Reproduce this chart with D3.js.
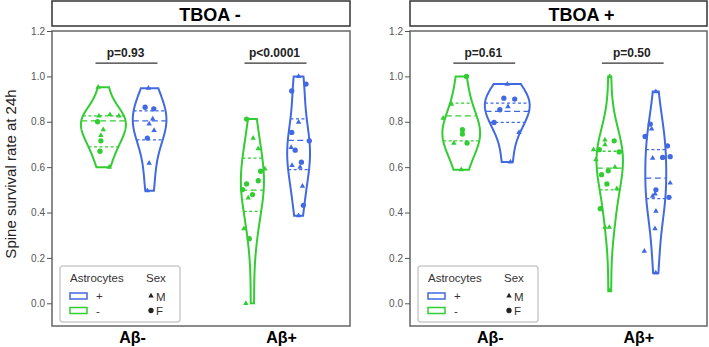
<!DOCTYPE html>
<html>
<head>
<meta charset="utf-8">
<script src="https://cdn.jsdelivr.net/npm/d3@7"></script>
<style>
  body { margin: 0; background: #fff; font-family: "Liberation Sans", Arial, sans-serif; }
</style>
</head>
<body>
<div id="chart"></div>
<script>
// ---- data ----
var panels = ["TBOA -", "TBOA +"];
var groups = ["Aβ-", "Aβ+"];
var astrocytes = ["-", "+"];
var sexes = ["M", "F"];
var pvalues = [["p=0.93", "p<0.0001"], ["p=0.61", "p=0.50"]];
var yTicks = [0, 0.2, 0.4, 0.6, 0.8, 1.0, 1.2];

// points: [survival rate, sex, jitter (fraction of category step)]
var tboaNeg_abNeg_astroNeg = [[0.952,"M",-0.035],[0.831,"M",0.044],[0.826,"M",-0.030],[0.826,"M",0.104],[0.800,"F",-0.039],[0.765,"M",-0.001],[0.740,"M",-0.017],[0.716,"F",-0.017],[0.670,"F",-0.023],[0.600,"M",0.039]];
var tboaNeg_abNeg_astroPos = [[0.948,"M",-0.008],[0.864,"F",-0.030],[0.857,"F",0.028],[0.813,"M",0.021],[0.791,"M",-0.003],[0.762,"M",0.030],[0.728,"F",-0.015],[0.618,"M",-0.003],[0.496,"M",-0.015]];
var tboaNeg_abPos_astroNeg = [[0.812,"F",-0.039],[0.728,"M",0.005],[0.681,"M",0.039],[0.592,"M",0.084],[0.582,"F",0.055],[0.540,"F",0.039],[0.526,"F",-0.039],[0.501,"F",-0.066],[0.479,"F",0.001],[0.464,"M",-0.028],[0.329,"M",-0.057],[0.285,"F",-0.021],[0.000,"M",-0.044]];
var tboaNeg_abPos_astroPos = [[1.000,"M",0],[0.966,"F",0.050],[0.936,"F",-0.046],[0.798,"M",0],[0.753,"F",-0.046],[0.716,"F",0.072],[0.687,"M",-0.050],[0.675,"F",-0.023],[0.622,"F",0.019],[0.608,"M",-0.044],[0.600,"M",0.010],[0.516,"M",0.026],[0.432,"F",0.032],[0.386,"M",0]];
var tboaPos_abNeg_astroNeg = [[1.000,"F",0.035],[0.878,"M",-0.066],[0.816,"M",-0.122],[0.765,"F",0.008],[0.746,"F",0.008],[0.706,"M",-0.050],[0.706,"F",0.039],[0.589,"M",0]];
var tboaPos_abNeg_astroPos = [[0.966,"M",0],[0.904,"F",-0.023],[0.900,"F",0.050],[0.867,"M",0.005],[0.853,"F",-0.050],[0.797,"F",-0.089],[0.753,"M",0.079],[0.623,"M",0.021]];
var tboaPos_abPos_astroNeg = [[1.000,"M",0],[0.720,"M",-0.032],[0.716,"F",0.030],[0.699,"M",-0.032],[0.677,"M",-0.109],[0.677,"F",-0.070],[0.667,"F",0.064],[0.633,"M",-0.093],[0.600,"M",0.035],[0.584,"F",-0.010],[0.567,"F",-0.055],[0.526,"F",-0.019],[0.505,"M",0.048],[0.417,"F",-0.064],[0.335,"M",-0.032],[0.335,"M",-0.003],[0.056,"M",0]];
var tboaPos_abPos_astroPos = [[0.933,"M",0],[0.790,"F",-0.037],[0.769,"M",-0.028],[0.735,"F",-0.072],[0.694,"F",0.079],[0.646,"F",0.097],[0.643,"F",0.046],[0.640,"M",-0.021],[0.530,"M",0.097],[0.500,"F",0.001],[0.482,"M",-0.005],[0.472,"M",-0.021],[0.467,"F",0.089],[0.406,"M",0.001],[0.329,"M",-0.005],[0.230,"M",-0.077],[0.134,"M",0]];

// quartiles [q1, median, q3] as drawn inside each violin
var quart_tboaNeg = [[[0.689,0.804,0.826],[0.720,0.804,0.848]], [[0.405,0.499,0.640],[0.589,0.718,0.813]]];
var quart_tboaPos = [[[0.716,0.826,0.882],[0.797,0.846,0.882]], [[0.500,0.596,0.670],[0.461,0.552,0.677]]];

// table for drawing: panel -> group -> astrocytes
var points = [
  [[tboaNeg_abNeg_astroNeg, tboaNeg_abNeg_astroPos], [tboaNeg_abPos_astroNeg, tboaNeg_abPos_astroPos]],
  [[tboaPos_abNeg_astroNeg, tboaPos_abNeg_astroPos], [tboaPos_abPos_astroNeg, tboaPos_abPos_astroPos]]
];
var quartiles = [quart_tboaNeg, quart_tboaPos];

// ---- layout ----
var W = 709, H = 347;
var panelX = [[52, 350], [410, 707]];
var titleShift = [9, 23];
var plotTop = 31, plotBottom = 326;
var colors = {"+": "#4169e1", "-": "#32cd32"};
var dodge = 0.155, maxHalf = 0.151;

var svg = d3.select("#chart").append("svg")
  .attr("width", W).attr("height", H);

var y = d3.scaleLinear().domain([-0.1, 1.2]).range([plotBottom, plotTop]);

// gaussian kde, scott bandwidth
function kde(vals) {
  var n = vals.length;
  var bw = d3.deviation(vals) * Math.pow(n, -0.2);
  return function(t) {
    var s = 0;
    vals.forEach(function(v) { var z = (t - v) / bw; s += Math.exp(-0.5 * z * z); });
    return s / (n * bw * Math.sqrt(2 * Math.PI));
  };
}

var triangle = d3.symbol().type(d3.symbolTriangle).size(13);
var circle = d3.symbol().type(d3.symbolCircle).size(22);

// y axis title
svg.append("text")
  .attr("transform", "translate(16,174) rotate(-90)")
  .attr("text-anchor", "middle")
  .style("font-size", "15px")
  .style("fill", "#222")
  .text("Spine survival rate at 24h");

panels.forEach(function(title, pi) {
  var left = panelX[pi][0], right = panelX[pi][1];
  var x = d3.scalePoint().domain(groups).range([left, right]).padding(0.5);
  var step = x.step();
  var g = svg.append("g");

  // strip
  g.append("rect")
    .attr("x", left).attr("y", 1).attr("width", right - left).attr("height", 25)
    .style("fill", "#fff").style("stroke", "#333").style("stroke-width", 1.5);
  g.append("text")
    .attr("x", (left + right) / 2 + titleShift[pi]).attr("y", 20.5)
    .attr("text-anchor", "middle")
    .style("font-size", "18px").style("font-weight", "bold")
    .text(title);

  // panel frame
  g.append("rect")
    .attr("x", left).attr("y", plotTop).attr("width", right - left).attr("height", plotBottom - plotTop)
    .style("fill", "none").style("stroke", "#666").style("stroke-width", 1.5);

  // y axis
  var ax = g.append("g").attr("transform", "translate(" + left + ",0)")
    .call(d3.axisLeft(y).tickValues(yTicks).tickSize(5).tickPadding(2).tickFormat(d3.format(".1f")));
  ax.select(".domain").remove();
  ax.selectAll("line").style("stroke", "#555");
  ax.selectAll("text").style("font-size", "10px").style("fill", "#555")
    .style("font-family", "'Liberation Sans', Arial, sans-serif");

  // x labels
  g.selectAll(".xlab").data(groups).enter().append("text")
    .attr("x", function(d) { return x(d) + 6; }).attr("y", 343)
    .attr("text-anchor", "middle")
    .style("font-size", "16px").style("font-weight", "bold")
    .text(function(d) { return d; });

  // densities for this panel
  var vio = [];
  groups.forEach(function(gr, gi) {
    astrocytes.forEach(function(a, ai) {
      var vals = points[pi][gi][ai].map(function(d) { return d[0]; });
      var f = kde(vals);
      var lo = d3.min(vals), hi = d3.max(vals);
      var grid = d3.range(100).map(function(i) { var t = lo + (hi - lo) * i / 99; return [t, f(t)]; });
      vio.push({gi: gi, group: gr, astro: a, f: f, grid: grid, pts: points[pi][gi][ai], q: quartiles[pi][gi][ai],
        cx: x(gr) + (a === "-" ? -1 : 1) * dodge * step});
    });
  });
  var maxD = d3.max(vio, function(v) { return d3.max(v.grid, function(d) { return d[1]; }); });
  var k = maxHalf * step / maxD;

  vio.forEach(function(v) {
    var col = colors[v.astro];
    var area = d3.area()
      .y(function(d) { return y(d[0]); })
      .x0(function(d) { return v.cx - d[1] * k; })
      .x1(function(d) { return v.cx + d[1] * k; });
    g.append("path").datum(v.grid).attr("d", area)
      .style("fill", "none").style("stroke", col).style("stroke-width", 2);

    v.q.forEach(function(qv, qi) {
      var w = v.f(qv) * k;
      g.append("line")
        .attr("x1", v.cx - w).attr("x2", v.cx + w)
        .attr("y1", y(qv)).attr("y2", y(qv))
        .style("stroke", col).style("stroke-width", 1.3)
        .style("stroke-dasharray", qi === 1 ? "6,3.5" : "3,2.5");
    });
  });

  vio.forEach(function(v) {
    var col = colors[v.astro];
    g.selectAll(null).data(v.pts).enter().append("path")
      .attr("d", function(d) { return d[1] === "M" ? triangle() : circle(); })
      .attr("transform", function(d) { return "translate(" + (v.cx + d[2] * step) + "," + y(d[0]) + ")"; })
      .style("fill", col);
  });

  // p-value brackets
  groups.forEach(function(gr, gi) {
    var cx = x(gr);
    g.append("line")
      .attr("x1", cx - 0.208 * step).attr("x2", cx + 0.208 * step)
      .attr("y1", y(1.058)).attr("y2", y(1.058))
      .style("stroke", "#333").style("stroke-width", 1.2);
    g.append("text")
      .attr("x", cx - 1).attr("y", y(1.058) - 6)
      .attr("text-anchor", "middle")
      .style("font-size", "12px").style("font-weight", "bold").style("fill", "#222")
      .text(pvalues[pi][gi]);
  });

  // legend
  var lg = g.append("g").attr("transform", "translate(" + (left + 8) + ",266)");
  lg.append("rect").attr("width", 120).attr("height", 56).attr("rx", 3)
    .style("fill", "#fff").style("stroke", "#ccc").style("stroke-width", 1.5);
  lg.append("text").attr("x", 10).attr("y", 16).text("Astrocytes")
    .style("font-size", "11.5px").style("fill", "#333");
  lg.append("text").attr("x", 86).attr("y", 16).text("Sex")
    .style("font-size", "11.5px").style("fill", "#333");
  ["+", "-"].forEach(function(a, i) {
    lg.append("rect").attr("x", 10).attr("y", 27 + i * 14.5).attr("width", 17).attr("height", 6)
      .style("fill", "none").style("stroke", colors[a]).style("stroke-width", 1.5);
    lg.append("text").attr("x", 36).attr("y", 34 + i * 14.5).text(a)
      .style("font-size", "11.5px").style("fill", "#333");
  });
  sexes.forEach(function(s, i) {
    lg.append("path").attr("d", s === "M" ? triangle() : circle())
      .attr("transform", "translate(91," + (30 + i * 14.5) + ")")
      .style("fill", "#222");
    lg.append("text").attr("x", 96).attr("y", 34.5 + i * 14.5).text(s)
      .style("font-size", "11.5px").style("fill", "#333");
  });
});
</script>
</body>
</html>
